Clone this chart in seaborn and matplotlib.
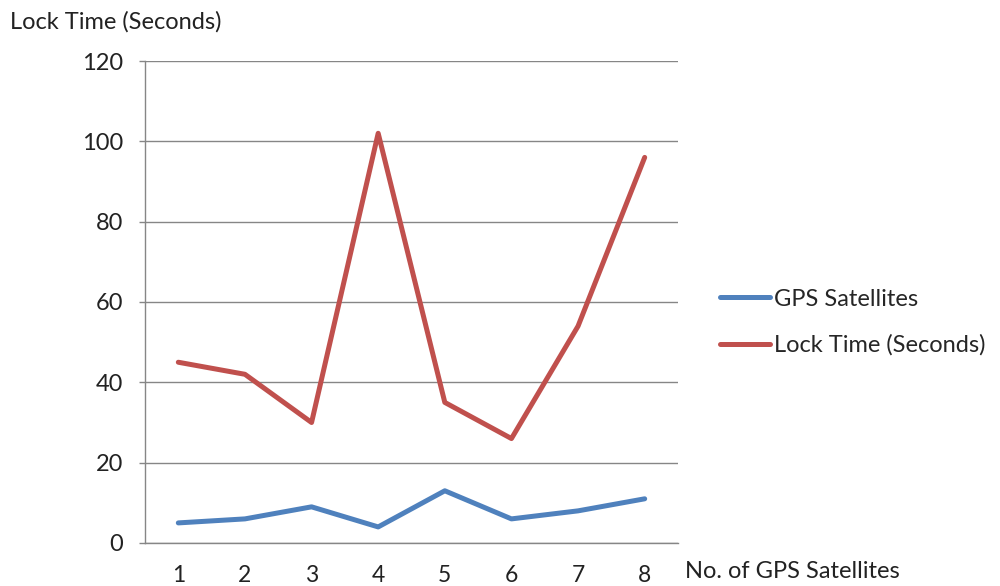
import pandas as pd
import matplotlib.pyplot as plt
import seaborn as sns

# chart values
categories = ['1', '2', '3', '4', '5', '6', '7', '8']
gps_satellites = [5, 6, 9, 4, 13, 6, 8, 11]
lock_time = [45, 42, 30, 102, 35, 26, 54, 96]
y_ticks = [0, 20, 40, 60, 80, 100, 120]

data = pd.DataFrame({
    'pos': list(range(len(categories))) * 2,
    'value': gps_satellites + lock_time,
    'series': ['GPS Satellites'] * len(categories) + ['Lock Time (Seconds)'] * len(categories),
})

sns.set_style('white')
plt.rcParams['font.family'] = ['Lato', 'DejaVu Sans']

fig = plt.figure(figsize=(10, 5.86), dpi=100)
ax = fig.add_axes([0.145, 0.0734, 0.533, 0.8225])

palette = {'GPS Satellites': '#4F81BD', 'Lock Time (Seconds)': '#C0504D'}
sns.lineplot(data=data, x='pos', y='value', hue='series', palette=palette,
             linewidth=3.6, ax=ax, legend=True)

ax.set_xlim(-0.5, len(categories) - 0.5)
ax.set_ylim(0, 120)
ax.set_yticks(y_ticks)
ax.set_xticks(range(len(categories)))
ax.set_xticklabels(categories)
ax.set_xticks([i - 0.5 for i in range(len(categories) + 1)], minor=True)
ax.tick_params(axis='x', which='major', length=0, pad=15.5, labelsize=16.5, colors='#222222')
ax.tick_params(axis='x', which='minor', length=4.5, width=1, color='#868686', direction='out')
ax.tick_params(axis='y', length=4.5, width=1, color='#868686', labelsize=17,
               labelcolor='#222222', pad=11, direction='out', left=True)
ax.grid(axis='y', color='#868686', linewidth=1)
ax.set_axisbelow(True)

for side in ['top', 'right']:
    ax.spines[side].set_visible(False)
for side in ['left', 'bottom']:
    ax.spines[side].set_color('#868686')
    ax.spines[side].set_linewidth(1)

ax.set_xlabel('')
ax.set_ylabel('')

fig.text(0.01, 0.962, 'Lock Time (Seconds)', fontsize=17, color='#222222', va='center')
fig.text(0.685, 0.024, 'No. of GPS Satellites', fontsize=17, color='#222222', va='center')

ax.legend(title=None, frameon=False, fontsize=17, loc='center left',
          bbox_to_anchor=(0.72, 0.45), bbox_transform=fig.transFigure,
          borderpad=0, borderaxespad=0,
          handlelength=2.1, handletextpad=0.2, labelspacing=1.05)

plt.savefig('out.png', dpi=100)
